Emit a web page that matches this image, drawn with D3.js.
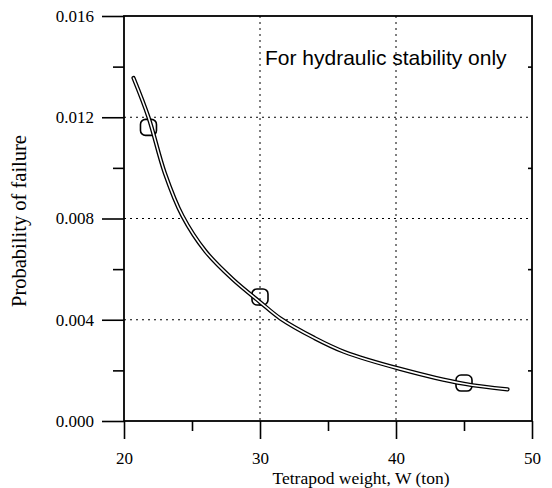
<!DOCTYPE html>
<html><head><meta charset="utf-8">
<script src="https://cdn.jsdelivr.net/npm/d3@7"></script>
<style>body{margin:0;background:#fff}svg{display:block}</style>
</head><body>
<svg id="c" width="552" height="488"></svg>
<script>
// data
const curveW = [20.7, 21.8, 23, 24.3, 26, 28, 30, 31.5, 34, 36.2, 40.3, 45, 48.2];
const curveP = [0.01355, 0.0120, 0.0098, 0.0081, 0.0067, 0.0056, 0.0047, 0.00405, 0.00328, 0.00273, 0.00206, 0.00147, 0.00125];
const pointW = [21.8, 30, 45];
const pointP = [0.0116, 0.0049, 0.0015];
const xMajor = [20, 30, 40, 50];
const xMinor = [25, 35, 45];
const yMajor = [0, 0.004, 0.008, 0.012, 0.016];
const yMinor = [0.002, 0.006, 0.010, 0.014];
const xGrid = [30, 40];
const yGrid = [0.004, 0.008, 0.012];

const L = 124, R = 532, T = 16, B = 421;
const svg = d3.select("#c");
const x = d3.scaleLinear().domain([20, 50]).range([L, R]);
const y = d3.scaleLinear().domain([0, 0.016]).range([B, T]);
const serif = "'Liberation Serif','Times New Roman',serif";

// grid
svg.append("g").selectAll("line").data(yGrid).join("line")
  .attr("x1", L).attr("x2", R).attr("y1", d => y(d)).attr("y2", d => y(d))
  .attr("stroke", "#000").attr("stroke-width", 1).attr("stroke-dasharray", "2,4");
svg.append("g").selectAll("line").data(xGrid).join("line")
  .attr("y1", T).attr("y2", B).attr("x1", d => x(d)).attr("x2", d => x(d))
  .attr("stroke", "#000").attr("stroke-width", 1).attr("stroke-dasharray", "2,4");

// axes
function styleAxis(g) {
  g.attr("font-family", null).attr("font-size", null);
  g.select(".domain").remove();
  g.selectAll(".tick line").attr("stroke", "#000").attr("stroke-width", 1.6);
  g.selectAll("text").style("font-family", serif).style("font-size", "17px").attr("fill", "#000");
}
svg.append("g").attr("transform", `translate(${L},0)`)
  .call(d3.axisLeft(y).tickValues(yMajor).tickSize(22).tickPadding(8).tickFormat(d3.format(".3f")))
  .call(styleAxis);
svg.append("g").attr("transform", `translate(${L},0)`)
  .call(d3.axisLeft(y).tickValues(yMinor).tickSize(11).tickFormat(""))
  .call(styleAxis);
svg.append("g").attr("transform", `translate(0,${B})`)
  .call(d3.axisBottom(x).tickValues(xMajor).tickSize(18).tickPadding(13))
  .call(styleAxis);
svg.append("g").attr("transform", `translate(0,${B})`)
  .call(d3.axisBottom(x).tickValues(xMinor).tickSize(10).tickFormat(""))
  .call(styleAxis);
svg.append("g").attr("transform", `translate(${R},0)`)
  .call(d3.axisLeft(y).tickValues(yMinor).tickSize(4).tickFormat(""))
  .call(styleAxis);

// frame
svg.append("rect").attr("x", L).attr("y", T).attr("width", R - L).attr("height", B - T)
  .attr("fill", "none").attr("stroke", "#000").attr("stroke-width", 1.8);

// markers
svg.append("g").selectAll("rect").data(pointW.map((w, i) => [w, pointP[i]])).join("rect")
  .attr("x", d => x(d[0]) - 8).attr("y", d => y(d[1]) - 8)
  .attr("width", 16).attr("height", 16).attr("rx", 5)
  .attr("fill", "none").attr("stroke", "#000").attr("stroke-width", 1.6);

// curve (double line)
const line = d3.line().x(d => x(d[0])).y(d => y(d[1])).curve(d3.curveCatmullRom.alpha(0.5));
const pts = curveW.map((w, i) => [w, curveP[i]]);
svg.append("path").attr("d", line(pts)).attr("fill", "none").attr("stroke", "#000").attr("stroke-width", 4.2).attr("stroke-linecap", "round");
svg.append("path").attr("d", line(pts)).attr("fill", "none").attr("stroke", "#fff").attr("stroke-width", 1.6).attr("stroke-linecap", "round");

// titles
svg.append("text").attr("x", 361).attr("y", 484).attr("text-anchor", "middle")
  .style("font-family", serif).style("font-size", "17.5px").text("Tetrapod weight, W (ton)");
svg.append("text").attr("transform", "translate(26,221) rotate(-90)").attr("text-anchor", "middle")
  .style("font-family", serif).style("font-size", "20.5px").text("Probability of failure");
svg.append("text").attr("x", 265).attr("y", 65)
  .style("font-family", "'Liberation Sans',Arial,sans-serif").style("font-size", "21px").text("For hydraulic stability only");
</script>
</body></html>
